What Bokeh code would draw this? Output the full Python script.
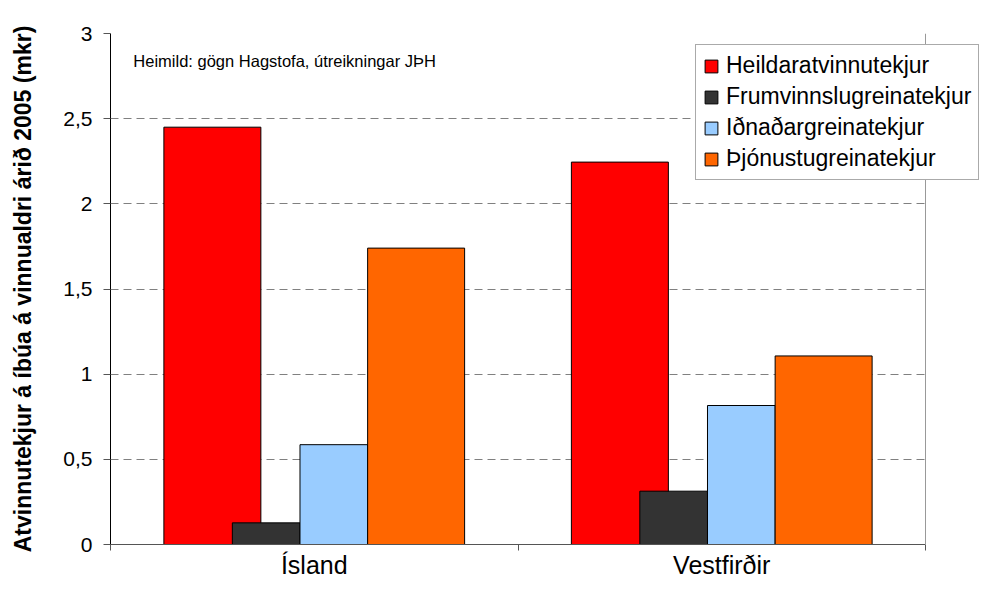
from bokeh.plotting import figure
from bokeh.models import Range1d, FixedTicker, Span, Label, Legend, LegendItem, BoxAnnotation
from bokeh.embed import file_html
from bokeh.resources import INLINE

# ---- data ----
categories = ["Ísland", "Vestfirðir"]
heildar = [2.45, 2.245]
frumvinnslu = [0.127, 0.313]
idnadar = [0.586, 0.816]
thjonustu = [1.74, 1.107]
series_names = ["Heildaratvinnutekjur", "Frumvinnslugreinatekjur",
                "Iðnaðargreinatekjur", "Þjónustugreinatekjur"]
y_ticks = [0, 0.5, 1, 1.5, 2, 2.5, 3]
y_tick_labels = ["0", "0,5", "1", "1,5", "2", "2,5", "3"]
y_title = "Atvinnutekjur á íbúa á vinnualdri árið 2005 (mkr)"
source_note = "Heimild: gögn Hagstofa, útreikningar JÞH"

FONT = "Liberation Sans"

# ---- layout (pixels) ----
W, H = 981, 581
LEFT, TOP, PLOT_RIGHT, BOTTOM = 110, 33, 925, 36
n = len(categories)
# frame extends to the figure's right edge so the legend is not clipped;
# the chart area itself ends at x = n (drawn as a border line)
x_end = n * (W - LEFT) / (PLOT_RIGHT - LEFT)

p = figure(width=W, height=H, output_backend="svg", toolbar_location=None,
           x_range=Range1d(0, x_end), y_range=Range1d(0, 3),
           min_border_left=LEFT, min_border_right=0, min_border_top=TOP,
           min_border_bottom=BOTTOM)
p.outline_line_color = None
p.background_fill_color = "white"
p.border_fill_color = "white"

# bars (offset, width, colour per series)
series = [heildar, frumvinnslu, idnadar, thjonustu]
colors = ["#FF0000", "#333333", "#99CCFF", "#FF6600"]
offsets = [-0.25, -0.118, 0.048, 0.25]
widths = [0.238, 0.166, 0.166, 0.238]
renderers = []
for vals, col, off, w in zip(series, colors, offsets, widths):
    xs = [i + 0.5 + off for i in range(n)]
    r = p.vbar(x=xs, top=vals, width=w, bottom=0, fill_color=col,
               line_color="black", line_width=1)
    renderers.append(r)

# grid
p.xgrid.visible = False
p.ygrid.ticker = FixedTicker(ticks=y_ticks)
p.ygrid.grid_line_color = "#808080"
p.ygrid.grid_line_dash = "8 5"
p.ygrid.grid_line_width = 1

# y axis
ya = p.yaxis[0]
ya.ticker = FixedTicker(ticks=y_ticks)
ya.major_label_overrides = {t: l for t, l in zip(y_ticks, y_tick_labels)}
ya.major_label_text_font = FONT
ya.major_label_text_font_size = "21px"
ya.major_label_text_color = "black"
ya.major_tick_in = 0
ya.major_tick_out = 7
ya.major_label_standoff = 11
ya.minor_tick_line_color = None
ya.axis_line_color = "black"
ya.major_tick_line_color = "#555555"
ya.axis_label = y_title
ya.axis_label_text_font = FONT
ya.axis_label_text_font_style = "bold"
ya.axis_label_text_font_size = "23px"
ya.axis_label_text_color = "black"
ya.axis_label_standoff = 24

# x axis
xa = p.xaxis[0]
centers = [i + 0.5 for i in range(n)]
bounds = [i for i in range(n + 1)]
xa.bounds = (0, n)
xa.ticker = FixedTicker(ticks=centers, minor_ticks=bounds)
xa.major_label_overrides = {c: name for c, name in zip(centers, categories)}
xa.major_tick_line_color = None
xa.major_tick_in = 0
xa.major_tick_out = 0
xa.minor_tick_in = 0
xa.minor_tick_out = 6
xa.minor_tick_line_color = "#555555"
xa.axis_line_color = "#555555"
xa.major_label_standoff = 0
xa.major_label_text_font = FONT
xa.major_label_text_font_size = "25px"
xa.major_label_text_color = "black"

# blank the strip to the right of the chart area, then draw its right border
p.add_layout(BoxAnnotation(left=n, fill_color="white", fill_alpha=1,
                           line_color=None))
p.add_layout(Span(location=n, dimension="height",
                  line_color="#999999", line_width=1))

# source note
p.add_layout(Label(x=0.056, y=2.84, text=source_note, text_font=FONT,
                   text_font_size="16.5px", text_baseline="middle", text_color="black"))

legend = Legend(items=[LegendItem(label=s, renderers=[r]) for s, r in zip(series_names, renderers)],
                location=(585, 364))
legend.label_text_font = FONT
legend.label_text_font_size = "23px"
legend.label_text_color = "black"
legend.glyph_width = 16
legend.glyph_height = 16
legend.label_height = 24
legend.spacing = 4
legend.padding = 7
legend.margin = 0
legend.label_standoff = 7
legend.border_line_color = "#555555"
legend.border_line_width = 1
legend.background_fill_color = "white"
legend.background_fill_alpha = 1
p.add_layout(legend)

open("out.html", "w").write(file_html(p, INLINE))
